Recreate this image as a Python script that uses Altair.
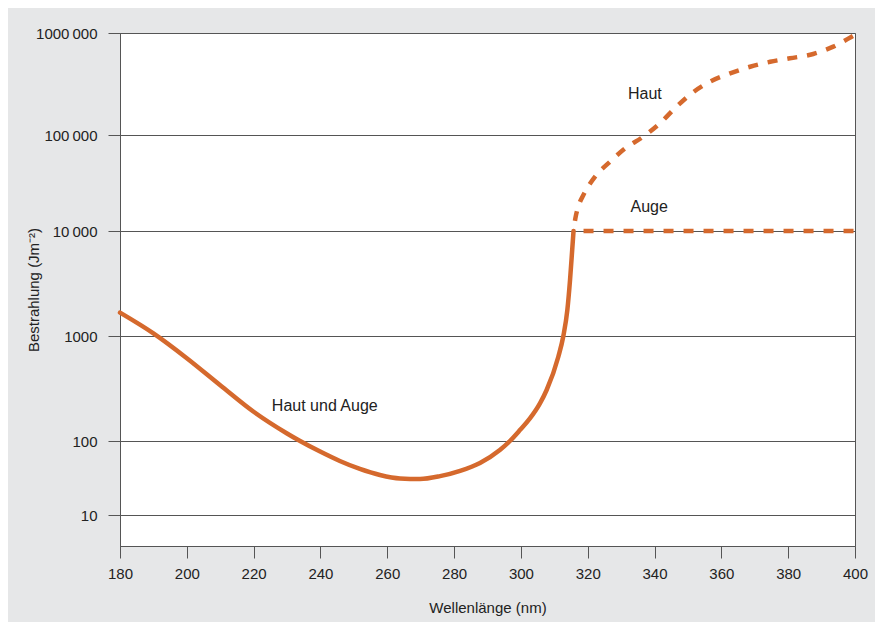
import altair as alt
import pandas as pd

# --- data ---
wl_both = [180, 190, 200, 210, 220, 230, 233.9, 239.9, 245.8, 251.8, 257.8, 263.8, 269.8,
           275.8, 281.8, 287.75, 293.7, 296.7, 299.7, 302.7, 305.7, 307.7, 311.2,
           312.7, 313.9, 314.7, 315.35, 315.75]
h_both = [1670, 1060, 615, 340, 190, 118, 100, 72, 53.7, 41.9, 34.7, 31.1, 30.6,
          33.5, 39.5, 50.5, 75.6, 100, 127, 164, 228, 306, 635,
          1000, 1770, 3410, 6590, 10000]

wl_skin = [315.75, 316.3, 317.3, 318.7, 322.2, 326.7, 331.2, 336.6, 341.6, 346.1, 351.1,
           356.6, 362.6, 368.6, 374.6, 380.5, 387.5, 393.5, 399, 400]
h_skin = [10000, 13500, 18500, 23700, 36800, 52800, 72600, 96000, 130000, 183000, 256000,
          333000, 402000, 467000, 522000, 565000, 623000, 735000, 920000, 960000]

wl_eye = [315.75, 400]
h_eye = [10000, 10000]

ann_text = ["Haut und Auge", "Haut", "Auge"]
ann_wl = [241.3, 337.1, 338.4]
ann_h = [215, 250000, 17900]

x_ticks = [180, 200, 220, 240, 260, 280, 300, 320, 340, 360, 380, 400]
y_ticks = [10, 100, 1000, 10000, 100000, 1000000]
y_tick_labels = ["10", "100", "1000", "10\u2009000", "100\u2009000", "1000\u2009000"]

# piecewise log scale, reproducing the uneven decade spacing of the original
y_domain = [4, 10, 100, 1000, 10000, 100000, 1000000]
y_range = [513, 482, 408, 303, 198, 102, 0]

ORANGE = "#d5692d"
TEXT = "#222222"
FONT = "Liberation Sans"

label_expr = ""
for v, l in zip(y_ticks, y_tick_labels):
    label_expr += f"datum.value == {v} ? '{l}' : "
label_expr += "''"

df_both = pd.DataFrame({"wl": wl_both, "h": h_both})
df_skin = pd.DataFrame({"wl": wl_skin, "h": h_skin})
df_eye = pd.DataFrame({"wl": wl_eye, "h": h_eye})
df_ann = pd.DataFrame({"wl": ann_wl, "h": ann_h, "t": ann_text})

x_enc = alt.X("wl:Q",
              scale=alt.Scale(domain=[180, 400], nice=False, zero=False),
              axis=alt.Axis(values=x_ticks, grid=False, title="Wellenlänge (nm)",
                            labelPadding=8, labelFlush=False, labelOverlap=False,
                            titleY=61, titleBaseline="middle"))
y_enc = alt.Y("h:Q",
              scale=alt.Scale(type="log", domain=y_domain, range=y_range, nice=False),
              axis=alt.Axis(values=y_ticks, grid=True, labelExpr=label_expr,
                            labelFlush=False, labelOverlap=False,
                            title="Bestrahlung (Jm\u207b\u00b2)", labelPadding=11,
                            titleX=-87, titleY=256.5, titleBaseline="middle",
                            titleAlign="center"))

both = alt.Chart(df_both).mark_line(color=ORANGE, strokeWidth=4.5, interpolate="monotone",
                                    strokeCap="round").encode(x=x_enc, y=y_enc)
skin = alt.Chart(df_skin).mark_line(color=ORANGE, strokeWidth=4.5, interpolate="monotone",
                                    strokeDash=[10, 10], strokeDashOffset=10,
                                    strokeCap="butt").encode(x=x_enc, y=y_enc)
eye = alt.Chart(df_eye).mark_line(color=ORANGE, strokeWidth=4.5,
                                  strokeDash=[10, 10], strokeDashOffset=10,
                                  strokeCap="butt").encode(x=x_enc, y=y_enc)
ann = alt.Chart(df_ann).mark_text(font=FONT, fontSize=16, color=TEXT, align="center",
                                  baseline="middle").encode(x=x_enc, y=y_enc, text="t:N")

chart = alt.layer(both, skin, eye, ann).properties(
    width=735, height=513,
    padding={"left": 112, "top": 25, "right": 20, "bottom": 76},
    autosize=alt.AutoSizeParams(type="none"),
    background="#e6e7e8",
).configure_view(
    stroke="#555555", fill="white", strokeWidth=1
).configure_axis(
    domainColor="#555555", tickColor="#555555", gridColor="#555555",
    domainWidth=1, tickWidth=1, gridWidth=1, tickSize=12,
    labelFont=FONT, titleFont=FONT, labelFontSize=15, titleFontSize=15,
    labelColor=TEXT, titleColor=TEXT, titleFontWeight="normal",
)

chart.save("out.html", embed_options={"renderer": "svg", "actions": False})
